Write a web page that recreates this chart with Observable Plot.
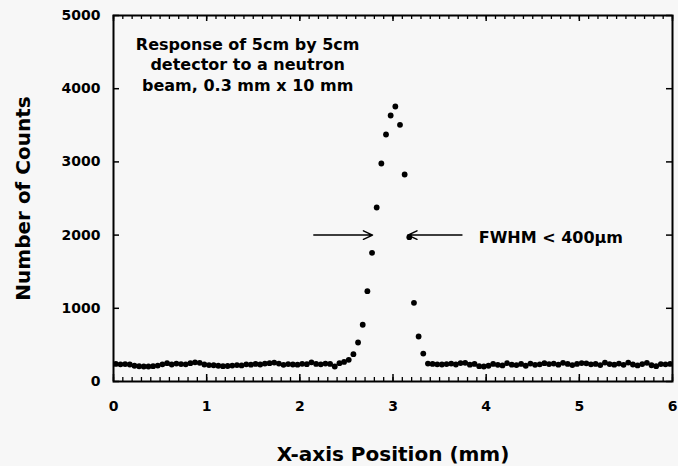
<!DOCTYPE html>
<html>
<head>
<meta charset="utf-8">
<script src="https://cdn.jsdelivr.net/npm/d3@7"></script>
<script src="https://cdn.jsdelivr.net/npm/@observablehq/plot@0.6"></script>
<style>
  html, body { margin: 0; padding: 0; background: #f7f7f7; }
</style>
</head>
<body>
<div id="chart"></div>
<script>
// Scan positions (mm)
const positions = [
  0.025,0.075,0.125,0.175,0.225,0.275,0.325,0.375,0.425,0.475,
  0.525,0.575,0.625,0.675,0.725,0.775,0.825,0.875,0.925,0.975,
  1.025,1.075,1.125,1.175,1.225,1.275,1.325,1.375,1.425,1.475,
  1.525,1.575,1.625,1.675,1.725,1.775,1.825,1.875,1.925,1.975,
  2.025,2.075,2.125,2.175,2.225,2.275,2.325,2.375,2.425,2.475,
  2.525,2.575,2.625,2.675,2.725,2.775,2.825,2.875,2.925,2.975,
  3.025,3.075,3.125,3.175,3.225,3.275,3.325,3.375,3.425,3.475,
  3.525,3.575,3.625,3.675,3.725,3.775,3.825,3.875,3.925,3.975,
  4.025,4.075,4.125,4.175,4.225,4.275,4.325,4.375,4.425,4.475,
  4.525,4.575,4.625,4.675,4.725,4.775,4.825,4.875,4.925,4.975,
  5.025,5.075,5.125,5.175,5.225,5.275,5.325,5.375,5.425,5.475,
  5.525,5.575,5.625,5.675,5.725,5.775,5.825,5.875,5.925,5.975
];
// Number of counts
const counts = [
  240,235,238,232,215,208,205,205,210,218,
  235,250,232,245,238,235,250,262,255,232,
  225,222,215,210,212,218,225,220,235,230,
  240,232,245,250,258,245,228,238,232,230,
  242,236,262,240,235,245,240,205,250,268,
  296,373,533,775,1234,1758,2377,2978,3374,3634,
  3757,3507,2828,1971,1075,615,382,245,240,235,
  232,238,245,232,252,255,230,240,210,205,
  215,240,228,220,250,230,225,240,215,245,
  228,235,250,238,245,230,255,240,225,240,
  252,248,235,240,225,258,238,230,245,228,
  258,232,220,238,255,222,210,238,235,240
];

const xTickLabels = [0, 1, 2, 3, 4, 5, 6];
const yTickLabels = [0, 1000, 2000, 3000, 4000, 5000];
const xMinorTicks = d3.range(0, 6.001, 0.1);

const annotationText = ["Response of 5cm by 5cm\ndetector to a neutron\nbeam, 0.3 mm x 10 mm"];
const fwhmText = ["FWHM < 400\u00b5m"];
const fwhmArrows = [
  {x1: 2.15, x2: 2.78, y: 2000},
  {x1: 3.74, x2: 3.16, y: 2000}
];
const annotationPos = {x: 1.44, y: 4340};
const fwhmPos = {x: 3.92, y: 1965};

const data = positions.map((x, i) => ({x, y: counts[i]}));

const W = 678, H = 466;
const mL = 113, mR = 6, mT = 15, mB = 85;
const fw = W - mL - mR, fh = H - mT - mB;

const chart = Plot.plot({
  width: W,
  height: H,
  marginLeft: mL,
  marginRight: mR,
  marginTop: mT,
  marginBottom: mB,
  style: {background: "#f7f7f7", fontFamily: "DejaVu Sans", fontWeight: "bold", color: "black"},
  x: {domain: [0, 6]},
  y: {domain: [0, 5000]},
  marks: [
    // tick labels
    Plot.axisX({ticks: xTickLabels, tickSize: 0, tickPadding: 20, fontSize: 14, label: null, tickFormat: d => String(d)}),
    Plot.axisY({ticks: yTickLabels, tickSize: 0, tickPadding: 13, fontSize: 14, label: null, tickFormat: d => String(d)}),
    // inward ticks: bottom
    Plot.tickX(xMinorTicks, {x: d => d, insetTop: fh - 4, stroke: "black", strokeWidth: 1.3}),
    Plot.tickX(xTickLabels, {x: d => d, insetTop: fh - 7, stroke: "black", strokeWidth: 1.5}),
    // top
    Plot.tickX(xMinorTicks, {x: d => d, insetBottom: fh - 4, stroke: "black", strokeWidth: 1.3}),
    Plot.tickX(xTickLabels, {x: d => d, insetBottom: fh - 6, stroke: "black", strokeWidth: 1.5}),
    // left / right
    Plot.tickY(yTickLabels, {y: d => d, insetRight: fw - 6, stroke: "black", strokeWidth: 1.5}),
    Plot.tickY(yTickLabels, {y: d => d, insetLeft: fw - 6, stroke: "black", strokeWidth: 1.5}),
    Plot.frame({stroke: "black", strokeWidth: 2}),
    // data
    Plot.dot(data, {x: "x", y: "y", r: 2.9, fill: "black", stroke: null}),
    // FWHM arrows
    Plot.arrow(fwhmArrows, {x1: "x1", x2: "x2", y1: "y", y2: "y", stroke: "black", strokeWidth: 1.5, headLength: 10, headAngle: 50, bend: 0}),
    Plot.text(fwhmText, {x: fwhmPos.x, y: fwhmPos.y, text: d => d, textAnchor: "start", fontSize: 16, fill: "black"}),
    // annotation
    Plot.text(annotationText, {x: annotationPos.x, y: annotationPos.y, text: d => d, textAnchor: "middle", lineAnchor: "middle", lineHeight: 1.3, fontSize: 16, fill: "black"}),
    // axis titles
    Plot.text(["X-axis Position (mm)"], {frameAnchor: "bottom", dy: 73, text: d => d, textAnchor: "middle", lineAnchor: "middle", fontSize: 20, fill: "black"}),
    Plot.text(["Number of Counts"], {frameAnchor: "left", dx: -90, rotate: -90, text: d => d, textAnchor: "middle", lineAnchor: "middle", fontSize: 20, fill: "black"})
  ]
});

document.getElementById("chart").appendChild(chart);
</script>
</body>
</html>
